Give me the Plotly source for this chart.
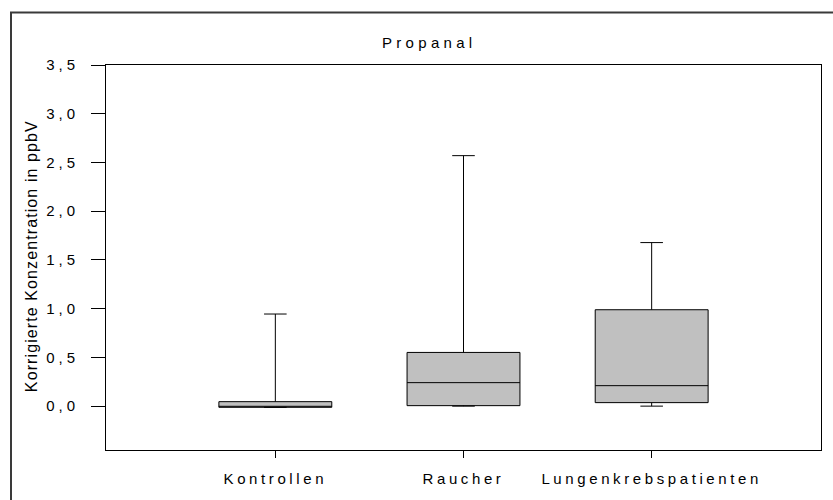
import plotly.graph_objects as go

# ---- data ----
categories = ["Kontrollen", "Raucher", "Lungenkrebspatienten"]
lower_fence = [-0.012, 0.0, 0.0]
q1_values = [-0.012, 0.005, 0.036]
median_values = [-0.012, 0.241, 0.21]
q3_values = [0.046, 0.551, 0.989]
upper_fence = [0.945, 2.57, 1.678]

y_tick_vals = [0.0, 0.5, 1.0, 1.5, 2.0, 2.5, 3.0, 3.5]
y_tick_text = ["0,0", "0,5", "1,0", "1,5", "2,0", "2,5", "3,0", "3,5"]

chart_title = "Propanal"
y_title = "Korrigierte Konzentration in ppbV"

FONT = "Arial, 'Liberation Sans', sans-serif"

fig = go.Figure()
fig.add_trace(go.Box(
    x=categories,
    lowerfence=lower_fence,
    q1=q1_values,
    median=median_values,
    q3=q3_values,
    upperfence=upper_fence,
    boxpoints=False,
    fillcolor="#c0c0c0",
    line=dict(color="#000000", width=1),
    whiskerwidth=0.2,
    showlegend=False,
    hoverinfo="skip",
))

L, R, T, B = 106, 12, 65, 50
W, H = 833, 500
pw, ph = W - L - R, H - T - B

def px_x(x):
    return (x - L) / pw

def px_y(y):
    return (H - B - y) / ph

fig.update_layout(
    width=W, height=H,
    margin=dict(l=L, r=R, t=T, b=B, pad=0),
    paper_bgcolor="white",
    plot_bgcolor="white",
    boxgap=0.4,
    boxgroupgap=0,
    font=dict(family=FONT, size=15, color="#000000"),
    xaxis=dict(
        type="category",
        range=[-0.9, 2.9],
        showline=True, linecolor="#000000", linewidth=1, mirror=True,
        ticks="outside", ticklen=7, tickwidth=1, tickcolor="#000000",
        showgrid=False, zeroline=False,
        tickfont=dict(family=FONT, size=15, color="#000000"),
        ticklabelstandoff=8,
    ),
    yaxis=dict(
        range=[-0.45, 3.5],
        tickmode="array", tickvals=y_tick_vals, ticktext=y_tick_text,
        showline=True, linecolor="#000000", linewidth=1, mirror=True,
        ticks="outside", ticklen=14, tickwidth=1, tickcolor="#000000",
        showgrid=False, zeroline=False,
        tickfont=dict(family=FONT, size=15, color="#000000"),
        ticklabelstandoff=9,
    ),
    shapes=[dict(
        type="rect", xref="paper", yref="paper",
        x0=px_x(11), x1=px_x(900), y0=px_y(560), y1=px_y(12.5),
        line=dict(color="#3a3a3a", width=2), fillcolor="rgba(0,0,0,0)",
        layer="above",
    )],
    annotations=[
        dict(text=chart_title, xref="paper", yref="paper",
             x=px_x(380), y=px_y(42), xanchor="left", yanchor="middle",
             align="left", showarrow=False,
             font=dict(family=FONT, size=15, color="#000000")),
        dict(text=y_title, xref="paper", yref="paper",
             x=px_x(31), y=px_y(256), xanchor="center", yanchor="middle",
             textangle=-90, showarrow=False,
             font=dict(family=FONT, size=16, color="#000000")),
    ],
)

post_js = """
document.body.style.margin = '0';
document.body.style.overflow = 'hidden';
var gd = document.getElementById('{plot_id}');
function spacing(){
  gd.querySelectorAll('.xtick text').forEach(function(t){t.style.letterSpacing='3.6px';});
  gd.querySelectorAll('.ytick text').forEach(function(t){t.style.letterSpacing='4px';});
  var a0 = gd.querySelector('.annotation[data-index="0"] text');
  if (a0) { a0.style.letterSpacing='4.3px'; }
  var a1 = gd.querySelector('.annotation[data-index="1"] text');
  if (a1) { a1.style.letterSpacing='1.1px'; }
}
spacing();
gd.on('plotly_afterplot', spacing);
"""

fig.write_html("out.html", post_script=post_js, config={"displayModeBar": False})
